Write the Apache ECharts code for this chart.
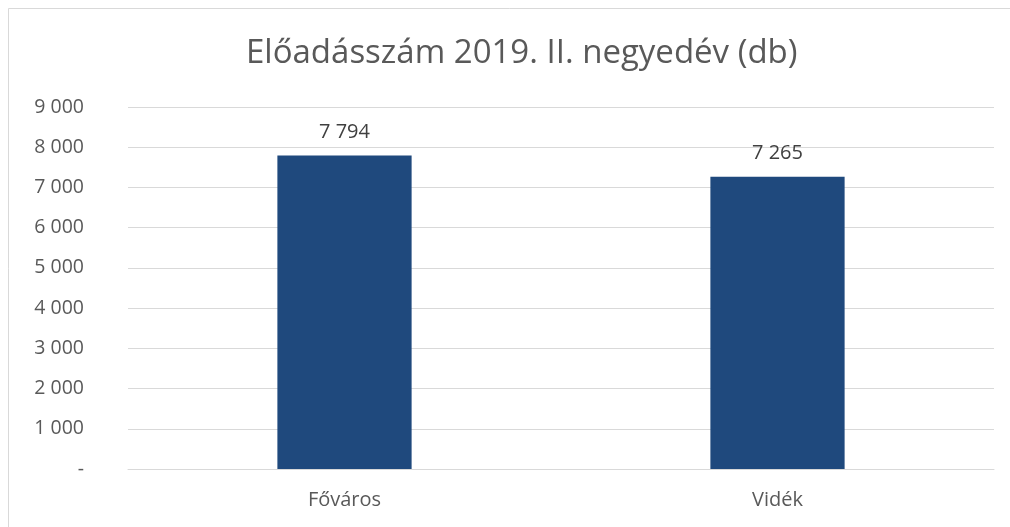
<!DOCTYPE html>
<html lang="hu">
<head>
    <meta charset="UTF-8">
    <title>Előadásszám 2019. II. negyedév</title>
    <script src="https://cdn.jsdelivr.net/npm/echarts@6/dist/echarts.min.js"></script>
    <style>
        html, body { margin: 0; padding: 0; background: #fff; }
        #container { width: 1010px; height: 527px; }
    </style>
</head>
<body>
<div id="container"></div>
<script type="text/javascript">
    // adatok
    var categories = ['Főváros', 'Vidék'];
    var values = [7794, 7265];
    var titleText = 'Előadásszám 2019. II. negyedév (db)';

    function fmt(v) {
        if (v === 0) return '-';
        return String(v).replace(/\B(?=(\d{3})+(?!\d))/g, ' ');
    }

    var myChart = echarts.init(document.getElementById('container'));
    var font = '"Open Sans", "Noto Sans", sans-serif';
    var option = {
        backgroundColor: '#fff',
        animation: false,
        textStyle: { fontFamily: font },
        title: {
            text: titleText,
            left: 241,
            top: 32,
            textStyle: { fontSize: 33, fontWeight: 'normal', color: '#595959', fontFamily: font }
        },
        graphic: [{
            type: 'rect',
            shape: { x: 8.5, y: 8.5, width: 1200, height: 700 },
            style: { fill: 'none', stroke: '#d9d9d9', lineWidth: 1 },
            silent: true
        }],
        grid: { left: 128, right: 16, top: 107, bottom: 58 },
        xAxis: {
            type: 'category',
            data: categories,
            axisLine: { lineStyle: { color: '#d9d9d9', width: 1 } },
            axisTick: { show: false },
            axisLabel: { color: '#595959', fontSize: 20, margin: 21, fontFamily: font }
        },
        yAxis: {
            type: 'value',
            min: 0,
            max: 9000,
            interval: 1000,
            axisLine: { show: false },
            axisTick: { show: false },
            splitLine: { lineStyle: { color: '#d9d9d9', width: 1 } },
            axisLabel: {
                color: '#595959', fontSize: 19.5, margin: 44, fontFamily: font,
                formatter: fmt
            }
        },
        series: [{
            type: 'bar',
            data: values,
            barWidth: '31%',
            itemStyle: { color: '#1f497d' },
            label: {
                show: true,
                position: 'top',
                distance: 13,
                color: '#404040',
                fontSize: 20,
                fontFamily: font,
                formatter: function (p) { return fmt(p.value); }
            }
        }]
    };
    myChart.setOption(option);
</script>
</body>
</html>
